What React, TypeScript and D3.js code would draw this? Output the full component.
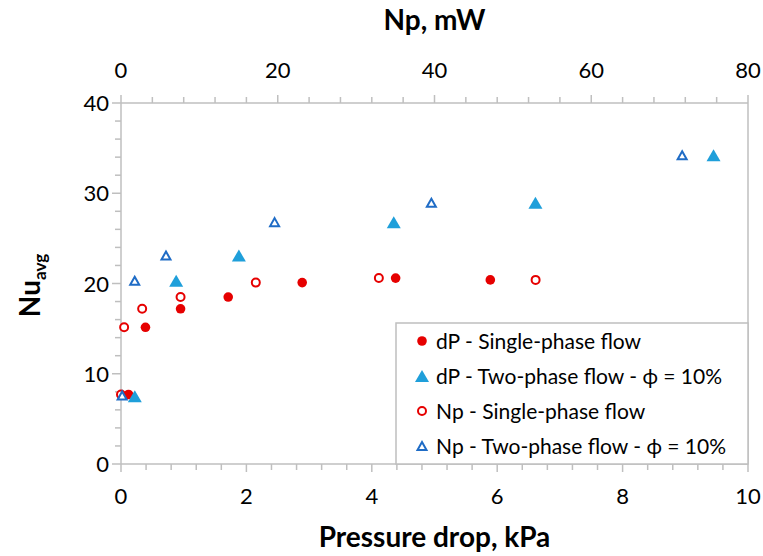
import React from "react";
import * as d3 from "d3";

const dpSingleX = [0.12, 0.39, 0.95, 1.71, 2.89, 4.38, 5.89];
const dpSingleY = [7.7, 15.15, 17.2, 18.5, 20.1, 20.6, 20.4];
const dpTwoX = [0.22, 0.88, 1.88, 4.35, 6.61, 9.45];
const dpTwoY = [7.5, 20.3, 23.1, 26.8, 28.95, 34.2];
const npSingleX = [0, 0.4, 2.7, 7.6, 17.2, 32.9, 52.9];
const npSingleY = [7.7, 15.15, 17.2, 18.5, 20.1, 20.6, 20.4];
const npTwoX = [0.15, 1.75, 5.74, 19.6, 39.6, 71.6];
const npTwoY = [7.6, 20.3, 23.1, 26.8, 28.95, 34.2];

const bottomTicks = [0, 2, 4, 6, 8, 10];
const topTicks = [0, 20, 40, 60, 80];
const leftTicks = [0, 10, 20, 30, 40];
const legendLabels = [
  "dP - Single-phase flow",
  "dP - Two-phase flow - \u03D5 = 10%",
  "Np - Single-phase flow",
  "Np - Two-phase flow - \u03D5 = 10%",
];

const RED = "#e60000";
const LBLUE = "#1f9fda";
const DBLUE = "#1f6cc6";
const GRAY = "#bfbfbf";
const FONT = "Lato, 'Open Sans', sans-serif";

const W = 763;
const H = 556;
const L = 121;
const R = 748;
const T = 103;
const B = 464;

const x = d3.scaleLinear().domain([0, 10]).range([L, R]);
const xTop = d3.scaleLinear().domain([0, 80]).range([L, R]);
const y = d3.scaleLinear().domain([0, 40]).range([B, T]);

const tri = (w: number, h: number) => `M0,${-h / 2}L${w / 2},${h / 2}L${-w / 2},${h / 2}Z`;

function Marker({ kind }: { kind: number }) {
  if (kind === 0) return <circle r={4.8} fill={RED} />;
  if (kind === 1) return <path d={tri(14, 12)} fill={LBLUE} />;
  if (kind === 2) return <circle r={4} fill="#fff" stroke={RED} strokeWidth={2} />;
  return <path d={tri(9, 8)} fill="#fff" stroke={DBLUE} strokeWidth={2} strokeLinejoin="miter" />;
}

export default function App() {
  const bottomMinor = d3.range(0, 10.001, 0.4);
  const topMinor = d3.range(0, 80.001, 4);
  const leftMinor = d3.range(0, 40.001, 2);
  const series = [
    { xs: dpSingleX, ys: dpSingleY, sx: x, kind: 0 },
    { xs: dpTwoX, ys: dpTwoY, sx: x, kind: 1 },
    { xs: npSingleX, ys: npSingleY, sx: xTop, kind: 2 },
    { xs: npTwoX, ys: npTwoY, sx: xTop, kind: 3 },
  ];
  const legX = 396;
  const legY = 323;
  return (
    <svg width={W} height={H} style={{ position: "absolute", left: 0, top: 0, background: "#fff" }} fontFamily={FONT}>
      <rect width={W} height={H} fill="#fff" />
      <g stroke={GRAY} strokeWidth={1.5}>
        {bottomMinor.map((v, i) => (
          <line key={"bm" + i} x1={x(v)} x2={x(v)} y1={B} y2={Math.abs(v - Math.round(v / 2) * 2) < 1e-6 ? B + 8 : B + 6} />
        ))}
        {topMinor.map((v, i) => (
          <line key={"tm" + i} x1={xTop(v)} x2={xTop(v)} y1={T} y2={v % 20 === 0 ? T - 8 : T - 6} />
        ))}
        {leftMinor.map((v, i) => (
          <line key={"lm" + i} x1={L} x2={v % 10 === 0 ? L - 9 : L - 6} y1={y(v)} y2={y(v)} />
        ))}
        <line x1={L} x2={R} y1={B} y2={B} />
        <line x1={L} x2={R} y1={T} y2={T} />
        <line x1={L} x2={L} y1={T} y2={B} />
        <line x1={R} x2={R} y1={T} y2={B} />
      </g>
      <g fontSize={22} fill="#000">
        {bottomTicks.map((v) => (
          <text key={"bt" + v} x={x(v)} y={B + 40} textAnchor="middle">{v}</text>
        ))}
        {topTicks.map((v) => (
          <text key={"tt" + v} x={xTop(v)} y={T - 25} textAnchor="middle">{v}</text>
        ))}
        {leftTicks.map((v) => (
          <text key={"lt" + v} x={L - 12} y={y(v) + 8} textAnchor="end">{v}</text>
        ))}
      </g>
      <text x={(L + R) / 2} y={30} textAnchor="middle" fontSize={28} fontWeight="bold">Np, mW</text>
      <text x={(L + R) / 2} y={547} textAnchor="middle" fontSize={28} fontWeight="bold">Pressure drop, kPa</text>
      <text transform={`translate(40,${(T + B) / 2 + 2}) rotate(-90)`} textAnchor="middle" fontSize={28} fontWeight="bold">
        Nu<tspan fontSize={17} dy={6}>avg</tspan>
      </text>
      {series.map((s, si) =>
        s.xs.map((v, i) => (
          <g key={si + "-" + i} transform={`translate(${s.sx(v)},${y(s.ys[i])})`}>
            <Marker kind={s.kind} />
          </g>
        ))
      )}
      <rect x={legX} y={legY} width={R - legX} height={B - legY} fill="#fff" stroke={GRAY} strokeWidth={1.5} />
      {legendLabels.map((lab, i) => (
        <g key={lab} transform={`translate(${legX},${legY + 18 + i * 35})`}>
          <g transform="translate(26,0)">
            <Marker kind={i} />
          </g>
          <text x={40} y={8} fontSize={21} fill="#000">{lab}</text>
        </g>
      ))}
    </svg>
  );
}
